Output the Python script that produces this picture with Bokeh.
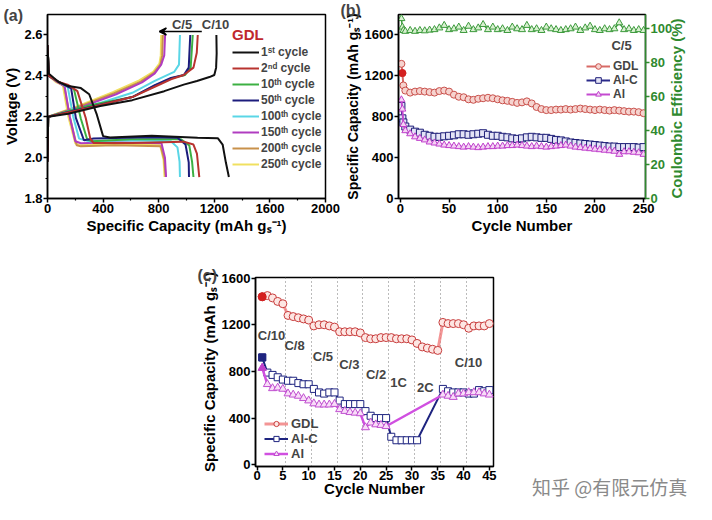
import math
from bokeh.plotting import figure
from bokeh.models import (Range1d, LinearAxis, FixedTicker, Legend, LegendItem,
                          Label, Arrow, VeeHead, Div, Spacer, Title, PrintfTickFormatter)
from bokeh.layouts import row, column
from bokeh.embed import file_html
from bokeh.resources import INLINE

FONT = "Liberation Sans"

# ---------------- (a) charge / discharge profiles ----------------
c1_dis_cap = [0, 10, 80, 150, 240, 300, 355, 400, 450, 750, 1080, 1225, 1260, 1283, 1305]
c1_dis_v = [2.55, 2.41, 2.37, 2.35, 2.34, 2.31, 2.21, 2.105, 2.098, 2.107, 2.097, 2.095, 2.064, 1.977, 1.905]
c1_ch_cap = [0, 5, 150, 380, 610, 840, 980, 1075, 1165, 1200, 1213, 1217, 1215]
c1_ch_v = [1.98, 2.20, 2.215, 2.252, 2.281, 2.325, 2.357, 2.375, 2.394, 2.404, 2.44, 2.51, 2.60]

c2_dis_cap = [0, 10, 80, 150, 215, 275, 308, 332, 610, 980, 1050, 1075, 1092]
c2_dis_v = [2.55, 2.40, 2.37, 2.355, 2.325, 2.194, 2.093, 2.071, 2.071, 2.078, 2.064, 2.02, 1.905]
c2_ch_cap = [0, 5, 262, 610, 795, 888, 980, 1050, 1074, 1081]
c2_ch_v = [1.98, 2.20, 2.238, 2.296, 2.354, 2.383, 2.404, 2.44, 2.513, 2.60]

c10_dis_cap = [0, 10, 80, 190, 240, 285, 320, 600, 960, 1020, 1040, 1050]
c10_dis_v = [2.55, 2.40, 2.37, 2.335, 2.19, 2.09, 2.08, 2.09, 2.09, 2.06, 1.98, 1.905]
c10_ch_cap = [0, 5, 300, 610, 780, 900, 990, 1030, 1045]
c10_ch_v = [1.98, 2.20, 2.255, 2.296, 2.354, 2.39, 2.404, 2.44, 2.60]

c50_dis_cap = [0, 10, 80, 170, 204, 262, 332, 726, 935, 993, 1016, 1018]
c50_dis_v = [2.55, 2.40, 2.37, 2.339, 2.194, 2.085, 2.093, 2.10, 2.097, 2.064, 1.977, 1.905]
c50_ch_cap = [0, 5, 378, 610, 772, 888, 981, 1016, 1027]
c50_ch_v = [1.98, 2.20, 2.259, 2.296, 2.354, 2.39, 2.404, 2.44, 2.60]

c100_dis_cap = [0, 10, 80, 146, 185, 227, 300, 600, 888, 935, 950, 953]
c100_dis_v = [2.55, 2.40, 2.37, 2.345, 2.20, 2.093, 2.08, 2.085, 2.08, 2.05, 1.98, 1.905]
c100_ch_cap = [0, 5, 378, 610, 772, 911, 946, 953]
c100_ch_v = [1.98, 2.20, 2.267, 2.317, 2.375, 2.419, 2.455, 2.60]

c150_dis_cap = [0, 10, 70, 123, 160, 200, 240, 480, 820, 845, 853]
c150_dis_v = [2.55, 2.40, 2.37, 2.35, 2.20, 2.08, 2.07, 2.075, 2.07, 2.00, 1.905]
c150_ch_cap = [0, 5, 262, 494, 680, 772, 818, 840, 846]
c150_ch_v = [1.98, 2.20, 2.252, 2.31, 2.368, 2.412, 2.455, 2.50, 2.60]

c200_dis_cap = [0, 10, 70, 120, 160, 210, 240, 480, 815, 840, 850]
c200_dis_v = [2.55, 2.40, 2.37, 2.35, 2.20, 2.06, 2.055, 2.06, 2.055, 1.99, 1.905]
c200_ch_cap = [0, 5, 250, 480, 670, 765, 812, 825, 830]
c200_ch_v = [1.98, 2.20, 2.255, 2.315, 2.372, 2.415, 2.455, 2.50, 2.60]

c250_dis_cap = [0, 10, 60, 110, 150, 200, 235, 480, 810, 835, 842]
c250_dis_v = [2.55, 2.40, 2.37, 2.355, 2.20, 2.07, 2.06, 2.065, 2.06, 1.99, 1.905]
c250_ch_cap = [0, 5, 240, 470, 660, 760, 805, 815, 818]
c250_ch_v = [1.98, 2.20, 2.258, 2.32, 2.378, 2.42, 2.46, 2.50, 2.60]

a_labels = ["1ˢᵗ cycle", "2ⁿᵈ cycle", "10ᵗʰ cycle", "50ᵗʰ cycle",
            "100ᵗʰ cycle", "150ᵗʰ cycle", "200ᵗʰ cycle", "250ᵗʰ cycle"]
a_colors = ["#111111", "#b8332f", "#3cb043", "#1c1c7c",
            "#5ad6e6", "#b03cc0", "#c8914a", "#f0e060"]
a_xticks = [0, 400, 800, 1200, 1600, 2000]
a_xminor = [200, 600, 1000, 1400, 1800]
a_yticks = [1.8, 2.0, 2.2, 2.4, 2.6]
a_yminor = [1.9, 2.1, 2.3, 2.5]

# ---------------- (b) cycling at C/5 ----------------
b_cycles = [1, 2, 3, 5, 10, 15, 20, 25, 30, 35, 40, 45, 50, 55, 60, 65, 70, 75, 80, 85,
            90, 95, 100, 105, 110, 115, 120, 125, 130, 135, 140, 145, 150, 155, 160, 165,
            170, 175, 180, 185, 190, 195, 200, 205, 210, 215, 220, 225, 230, 235, 240, 245, 250]
b_gdl = [1310, 1220, 1100, 1050, 1030, 1040, 1045, 1040, 1035, 1030, 1045, 1050, 1040, 1010,
         990, 985, 965, 960, 970, 975, 980, 975, 965, 955, 950, 940, 930, 935, 945, 925, 890,
         870, 860, 860, 865, 865, 870, 865, 870, 875, 870, 865, 860, 865, 860, 855, 860, 855,
         850, 845, 845, 840, 830]
b_alc = [900, 780, 740, 700, 670, 650, 640, 620, 610, 600, 600, 605, 610, 615, 625, 625, 620,
         625, 630, 635, 620, 610, 610, 600, 595, 585, 580, 585, 595, 600, 595, 590, 590, 580,
         570, 565, 555, 545, 540, 535, 530, 525, 520, 515, 510, 505, 505, 500, 500, 500, 500,
         495, 500]
b_al = [960, 870, 720, 660, 630, 600, 585, 570, 550, 540, 530, 520, 515, 510, 505, 500, 505,
        500, 495, 500, 505, 505, 510, 510, 515, 515, 520, 515, 510, 505, 510, 505, 500, 505,
        510, 515, 520, 510, 500, 495, 490, 485, 480, 475, 470, 465, 460, 430, 455, 455, 450,
        445, 430]
b_ce = [106, 101, 99, 98.5, 99, 98.5, 99, 98.8, 99.2, 99.5, 100.5, 102, 99.5, 100, 101, 99,
        101.5, 99.5, 100.5, 102.5, 99.5, 101, 99.5, 100, 99, 101, 100, 99.5, 102, 99.5, 100,
        99, 101, 100, 99.5, 99, 99.5, 100, 101, 99, 100.5, 101.5, 99.5, 99, 100, 99.5, 100,
        103.5, 99.5, 100, 99, 99.5, 99]
b_xticks = [0, 50, 100, 150, 200, 250]
b_yticks = [0, 400, 800, 1200, 1600]
b_ceticks = [0, 20, 40, 60, 80, 100]

# ---------------- (c) rate capability ----------------
c_cycles = list(range(1, 46))
c_gdl = [1440, 1450, 1430, 1400, 1380, 1280, 1270, 1260, 1250, 1240, 1190, 1200, 1200, 1190,
         1180, 1140, 1140, 1140, 1140, 1130, 1090, 1080, 1080, 1090, 1090, 1090, 1080, 1080,
         1080, 1070, 1040, 1010, 1000, 990, 980, 1220, 1210, 1210, 1210, 1200, 1170, 1190,
         1190, 1190, 1210]
c_alc_cycles = list(range(1, 32)) + list(range(36, 46))
c_alc = [920, 790, 770, 750, 730, 720, 720, 700, 690, 690, 650, 620, 610, 620, 620, 550, 520,
         520, 520, 520, 460, 420, 400, 400, 400, 240, 210, 210, 210, 210, 210,
         650, 630, 620, 620, 620, 610, 610, 640, 630, 640]
c_al_cycles = list(range(1, 26)) + list(range(36, 46))
c_al = [830, 690, 655, 660, 650, 610, 600, 590, 570, 550, 525, 515, 515, 515, 520, 475, 460,
        450, 445, 440, 320, 360, 345, 340, 330,
        600, 590, 580, 610, 610, 620, 620, 620, 610, 600]
c_rate_names = ["C/10", "C/8", "C/5", "C/3", "C/2", "1C", "2C", "C/10"]
c_rate_x = [0.15, 5.3, 10.8, 15.9, 21.1, 25.8, 31.0, 38.3]
c_rate_y = [1111, 1022, 926, 858, 775, 705, 658, 878]
c_boundaries = [5.5, 10.5, 15.5, 20.5, 25.5, 30.5, 35.5, 40.5]
c_xticks = [0, 5, 10, 15, 20, 25, 30, 35, 40, 45]
c_yticks = [0, 400, 800, 1200, 1600]


def base_fig(**kw):
    p = figure(output_backend="svg", toolbar_location=None, title=None, **kw)
    p.xgrid.visible = False
    p.ygrid.visible = False
    p.outline_line_color = "black"
    p.outline_line_width = 1.5
    return p


def style_axis(ax, color="black", tick_size="13px", label_size="15px", label_standoff=1,
               tick_standoff=1):
    ax.axis_label_text_font = FONT
    ax.axis_label_text_font_style = "bold"
    ax.axis_label_text_font_size = label_size
    ax.axis_label_text_color = color
    ax.major_label_text_font = FONT
    ax.major_label_text_font_style = "bold"
    ax.major_label_text_font_size = tick_size
    ax.major_label_text_color = color
    ax.axis_line_width = 1.5
    ax.axis_line_color = color
    ax.major_tick_line_color = color
    ax.major_tick_line_width = 1.5
    ax.minor_tick_line_color = color
    ax.minor_tick_line_width = 1.2
    ax.major_tick_in = 0
    ax.major_tick_out = 4
    ax.minor_tick_in = 0
    ax.minor_tick_out = 2
    ax.axis_label_standoff = label_standoff
    ax.major_label_standoff = tick_standoff


def style_legend(lg, size="12px"):
    lg.label_text_font = FONT
    lg.label_text_font_style = "bold"
    lg.label_text_font_size = size
    lg.border_line_color = None
    lg.background_fill_alpha = 0
    lg.padding = 0
    lg.margin = 0
    lg.spacing = 0


def panel_label(p, text, offset, standoff):
    p.add_layout(Title(text=text, align="left", vertical_align="bottom", offset=offset,
                       standoff=standoff, text_font=FONT, text_font_style="bold",
                       text_font_size="16px"), "above")


# ================= panel (a) =================
pa = base_fig(width=340, height=246, x_range=Range1d(0, 2000), y_range=Range1d(1.8, 2.7),
              min_border_left=44, min_border_right=15, min_border_top=8, min_border_bottom=41)
pa.xaxis.ticker = FixedTicker(ticks=a_xticks, minor_ticks=a_xminor)
pa.yaxis.ticker = FixedTicker(ticks=a_yticks, minor_ticks=a_yminor)
pa.yaxis.formatter = PrintfTickFormatter(format="%.1f")
pa.xaxis.axis_label = "Specific Capacity (mAh gₛ⁻¹)"
pa.yaxis.axis_label = "Voltage (V)"
style_axis(pa.xaxis[0])
style_axis(pa.yaxis[0])

curves = [(c1_dis_cap, c1_dis_v, c1_ch_cap, c1_ch_v),
          (c2_dis_cap, c2_dis_v, c2_ch_cap, c2_ch_v),
          (c10_dis_cap, c10_dis_v, c10_ch_cap, c10_ch_v),
          (c50_dis_cap, c50_dis_v, c50_ch_cap, c50_ch_v),
          (c100_dis_cap, c100_dis_v, c100_ch_cap, c100_ch_v),
          (c150_dis_cap, c150_dis_v, c150_ch_cap, c150_ch_v),
          (c200_dis_cap, c200_dis_v, c200_ch_cap, c200_ch_v),
          (c250_dis_cap, c250_dis_v, c250_ch_cap, c250_ch_v)]
draw_order = [7, 6, 5, 4, 2, 3, 1, 0]
a_renderers = {}
for i in draw_order:
    dc, dv, cc, cv = curves[i]
    r = pa.line(dc, dv, line_color=a_colors[i], line_width=2)
    pa.line(cc, cv, line_color=a_colors[i], line_width=2)
    a_renderers[i] = r

leg_a = Legend(items=[LegendItem(label=a_labels[i], renderers=[a_renderers[i]]) for i in range(8)],
               location=(185, 26), title="GDL")
style_legend(leg_a)
leg_a.glyph_width = 27
leg_a.glyph_height = 16
leg_a.label_height = 16
leg_a.label_standoff = 2
leg_a.title_text_font = FONT
leg_a.title_text_font_style = "bold"
leg_a.title_text_font_size = "15px"
leg_a.title_text_color = "#c0282d"
leg_a.title_standoff = 1
pa.add_layout(leg_a)

pa.add_layout(Arrow(end=VeeHead(size=7, line_width=1.5, line_color="black"),
                    x_start=1110, y_start=2.617, x_end=805, y_end=2.617, line_width=1.5))
for txt, xx in [("C/5", 895), ("C/10", 1110)]:
    pa.add_layout(Label(x=xx, y=2.651, text=txt, text_font=FONT, text_font_style="bold",
                        text_font_size="13px", text_baseline="middle", text_align="left"))
panel_label(pa, "(a)", -44, -19)

# ================= panel (b) =================
pb = base_fig(width=356, height=246, x_range=Range1d(-2, 252), y_range=Range1d(0, 1790),
              min_border_left=58, min_border_right=49, min_border_top=14, min_border_bottom=48)
pb.extra_y_ranges = {"ce": Range1d(0, 108.4)}
pb.xaxis.ticker = FixedTicker(ticks=b_xticks)
pb.yaxis.ticker = FixedTicker(ticks=b_yticks)
pb.xaxis.axis_label = "Cycle Number"
pb.yaxis.axis_label = "Specific Capacity (mAh gₛ⁻¹)"
style_axis(pb.xaxis[0])
style_axis(pb.yaxis[0], label_size="14px")
pb.xaxis.minor_tick_line_color = None
pb.yaxis.minor_tick_line_color = None
ce_axis = LinearAxis(y_range_name="ce", axis_label="Coulombic Efficiency (%)",
                     ticker=FixedTicker(ticks=b_ceticks))
style_axis(ce_axis, color="#2f8a2f")
ce_axis.minor_tick_line_color = None
ce_axis.axis_label_orientation = math.pi / 2
ce_axis.axis_label_align = "start"
pb.add_layout(ce_axis, "right")

pb.line(b_cycles, b_ce, y_range_name="ce", line_color="#3c9a3c", line_width=1.5)
pb.scatter(b_cycles, b_ce, y_range_name="ce", marker="triangle", size=7,
           line_color="#3c9a3c", fill_color="#d8f0d0", line_width=1)

r_b_gdl_l = pb.line(b_cycles, b_gdl, line_color="#d86a66", line_width=2)
r_b_gdl_s = pb.scatter(b_cycles, b_gdl, marker="circle", size=7, line_color="#c9504b",
                       fill_color="#f6d3cf", line_width=1)
pb.scatter(b_cycles[1:2], b_gdl[1:2], marker="circle", size=7, line_color="#d42020",
           fill_color="#d42020")
r_b_alc_l = pb.line(b_cycles, b_alc, line_color="#2a2a8a", line_width=2)
r_b_alc_s = pb.scatter(b_cycles, b_alc, marker="square", size=7, line_color="#1e1e78",
                       fill_color="#e4e4f6", line_width=1)
r_b_al_l = pb.line(b_cycles, b_al, line_color="#c44ad0", line_width=2)
r_b_al_s = pb.scatter(b_cycles, b_al, marker="triangle", size=7, line_color="#c040cc",
                      fill_color="#f4d2f4", line_width=1)

leg_b = Legend(items=[LegendItem(label="GDL", renderers=[r_b_gdl_l, r_b_gdl_s]),
                      LegendItem(label="Al-C", renderers=[r_b_alc_l, r_b_alc_s]),
                      LegendItem(label="Al", renderers=[r_b_al_l, r_b_al_s])],
               location=(188, 97))
style_legend(leg_b)
leg_b.glyph_width = 24
leg_b.glyph_height = 14
leg_b.label_height = 14
leg_b.label_standoff = 3
pb.add_layout(leg_b)
pb.add_layout(Label(x=217, y=1484, text="C/5", text_font=FONT, text_font_style="bold",
                    text_font_size="13px", text_baseline="middle", text_align="left"))
panel_label(pb, "(b)", -58, -8)

# ================= panel (c) =================
pc = base_fig(width=313, height=258, x_range=Range1d(-0.3, 45.8), y_range=Range1d(-15, 1605),
              min_border_left=65, min_border_right=10, min_border_top=31, min_border_bottom=38)
pc.xaxis.ticker = FixedTicker(ticks=c_xticks)
pc.yaxis.ticker = FixedTicker(ticks=c_yticks)
pc.xaxis.axis_label = "Cycle Number"
pc.yaxis.axis_label = "Specific Capacity (mAh gₛ⁻¹)"
style_axis(pc.xaxis[0], label_standoff=-3, tick_standoff=0)
style_axis(pc.yaxis[0])
pc.xaxis.minor_tick_line_color = None
pc.yaxis.minor_tick_line_color = None
pc.xgrid.visible = True
pc.xgrid.ticker = FixedTicker(ticks=c_boundaries)
pc.xgrid.grid_line_color = "#777777"
pc.xgrid.grid_line_dash = "1 3"
pc.xgrid.grid_line_width = 1

r_c_gdl_l = pc.line(c_cycles, c_gdl, line_color="#f07a7a", line_width=3, line_alpha=0.8)
r_c_gdl_s = pc.scatter(c_cycles, c_gdl, marker="circle", size=8, line_color="#c83c3c",
                       fill_color="#fde6e3", line_width=1)
r_c_alc_l = pc.line(c_alc_cycles, c_alc, line_color="#1f2580", line_width=2)
r_c_alc_s = pc.scatter(c_alc_cycles, c_alc, marker="square", size=7, line_color="#1f2580",
                       fill_color="white", line_width=1)
r_c_al_l = pc.line(c_al_cycles, c_al, line_color="#d050e0", line_width=2.5)
r_c_al_s = pc.scatter(c_al_cycles, c_al, marker="triangle", size=8, line_color="#c050d0",
                      fill_color="#f8dcf8", line_width=1)
pc.scatter(c_cycles[0:1], c_gdl[0:1], marker="circle", size=8, color="#d42020")
pc.scatter(c_alc_cycles[0:1], c_alc[0:1], marker="square", size=7, color="#1f2580")
pc.scatter(c_al_cycles[0:1], c_al[0:1], marker="triangle", size=8, color="#c040cc")

leg_c = Legend(items=[LegendItem(label="GDL", renderers=[r_c_gdl_l, r_c_gdl_s]),
                      LegendItem(label="Al-C", renderers=[r_c_alc_l, r_c_alc_s]),
                      LegendItem(label="Al", renderers=[r_c_al_l, r_c_al_s])],
               location=(9, 5))
style_legend(leg_c, size="13px")
leg_c.glyph_width = 24
leg_c.glyph_height = 13
leg_c.label_height = 13
leg_c.label_standoff = 3
pc.add_layout(leg_c)
for name, xx, yy in zip(c_rate_names, c_rate_x, c_rate_y):
    pc.add_layout(Label(x=xx, y=yy, text=name, text_font=FONT, text_font_style="bold",
                        text_font_size="13px", text_baseline="middle", text_align="left"))
panel_label(pc, "(c)", -58, -12)

watermark = Div(text='<div style="margin:222px 0 0 24px; font-family:\'Noto Sans CJK SC\';'
                     ' font-size:19px; color:#8a8a8a; white-space:nowrap;">知乎 @有限元仿真</div>',
                width=193, height=258)

layout = column(row(pa, pb), row(Spacer(width=190, height=258), pc, watermark))
open("out.html", "w").write(file_html(layout, INLINE))
